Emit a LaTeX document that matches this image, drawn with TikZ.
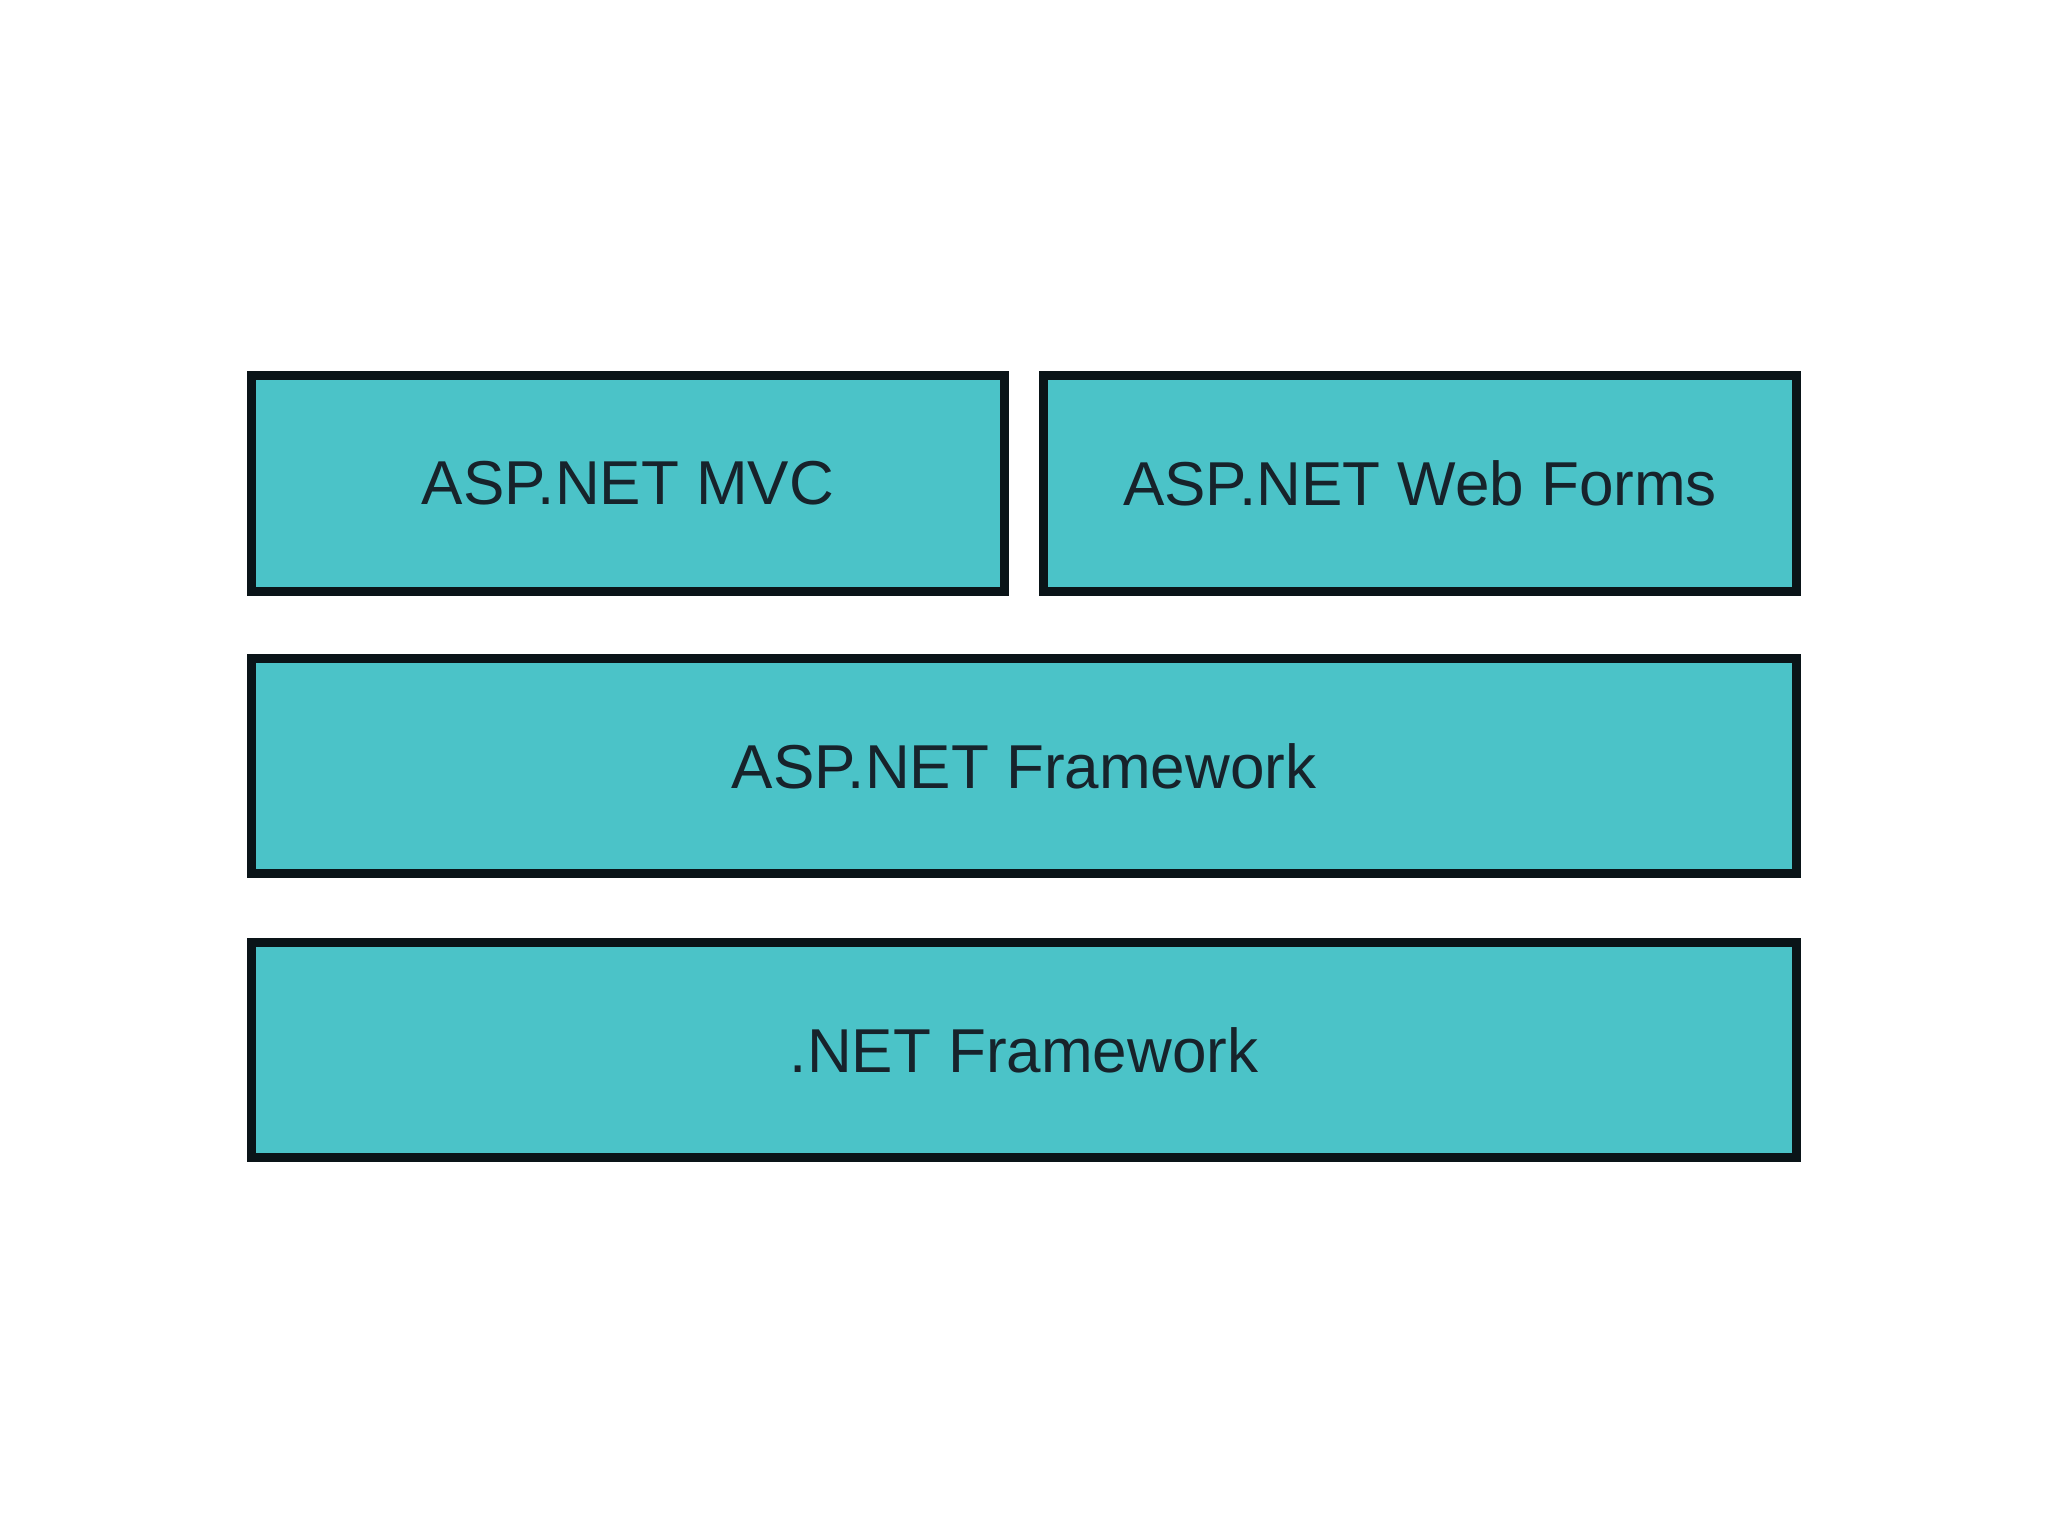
\documentclass[tikz,border=0pt]{standalone}
\usepackage{fontspec}
\setmainfont{Liberation Sans}
\definecolor{tealfill}{HTML}{4BC3C8}
\definecolor{darkline}{HTML}{0A1418}
\definecolor{textcol}{HTML}{17232B}
\begin{document}
\begin{tikzpicture}[x=1pt,y=-1pt,
  layer/.style={draw=darkline,fill=tealfill,line width=9pt,text=textcol,
    font=\fontsize{62}{70}\selectfont,inner sep=0pt},
]
\useasboundingbox[fill=white] (0,0) rectangle (2048,1536);
\node[layer,minimum width=753pt,minimum height=216pt] (mvc) at (628,483.5) {ASP.NET MVC};
\node[layer,minimum width=753pt,minimum height=216pt] (wf) at (1420,483.5) {ASP.NET Web Forms};
\node[layer,minimum width=1545pt,minimum height=215pt] (asp) at (1024,766) {ASP.NET Framework};
\node[layer,minimum width=1545pt,minimum height=215pt] (net) at (1024,1050) {.NET Framework};
\end{tikzpicture}
\end{document}
